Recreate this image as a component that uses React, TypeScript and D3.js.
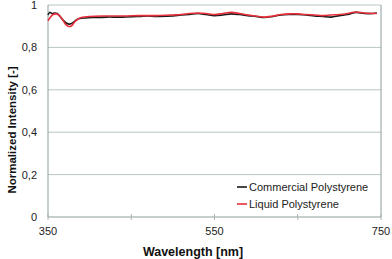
import React, { useEffect, useRef } from "react";
import * as d3 from "d3";

// wavelength [nm] sample points, one list per series
const commercialX = [350, 352, 355, 358, 361, 364, 368, 372, 376, 380, 384, 388, 395, 405, 420, 440, 460, 470, 480, 500, 510, 520, 530, 540, 550, 560, 570, 580, 590, 600, 610, 620, 630, 640, 650, 660, 670, 680, 690, 700, 710, 720, 730, 740, 745];
const commercialY = [0.953, 0.965, 0.96, 0.962, 0.96, 0.948, 0.929, 0.915, 0.91, 0.917, 0.929, 0.936, 0.939, 0.941, 0.943, 0.943, 0.946, 0.948, 0.946, 0.948, 0.953, 0.955, 0.96, 0.955, 0.95, 0.953, 0.958, 0.955, 0.95, 0.946, 0.941, 0.946, 0.953, 0.955, 0.955, 0.953, 0.948, 0.946, 0.943, 0.95, 0.955, 0.965, 0.96, 0.96, 0.962];
const liquidX = [350, 353, 356, 360, 363, 367, 371, 375, 378, 382, 386, 390, 400, 420, 440, 460, 480, 500, 510, 520, 530, 540, 550, 560, 570, 580, 590, 600, 610, 620, 630, 640, 650, 660, 670, 680, 690, 700, 710, 720, 730, 740, 745];
const liquidY = [0.925, 0.943, 0.955, 0.958, 0.953, 0.934, 0.91, 0.899, 0.901, 0.92, 0.934, 0.941, 0.946, 0.948, 0.948, 0.95, 0.95, 0.953, 0.955, 0.96, 0.962, 0.96, 0.955, 0.96, 0.965, 0.96, 0.953, 0.948, 0.943, 0.948, 0.955, 0.958, 0.958, 0.955, 0.953, 0.95, 0.953, 0.955, 0.96, 0.967, 0.962, 0.96, 0.96];

const yTicks = [0, 0.2, 0.4, 0.6, 0.8, 1];
const xLabelTicks = [350, 550, 750];
const xMinorTicks = [450, 650];
const seriesNames = ["Commercial Polystyrene", "Liquid Polystyrene"];
const seriesColors = ["#1a1a1a", "#e8303c"];

const W = 392;
const H = 259;

const App: React.FC = () => {
  const ref = useRef<SVGSVGElement | null>(null);

  useEffect(() => {
    const margin = { top: 5, right: 11, bottom: 42, left: 48 };
    const width = W - margin.left - margin.right;
    const height = H - margin.top - margin.bottom;

    const x = d3.scaleLinear().domain([350, 750]).range([0, width]);
    const y = d3.scaleLinear().domain([0, 1]).range([height, 0]);

    const svg = d3.select(ref.current);
    svg.selectAll("*").remove();

    const g = svg
      .append("g")
      .attr("transform", `translate(${margin.left},${margin.top})`);

    // gridlines
    g.selectAll("line.grid")
      .data(yTicks.filter((t) => t > 0))
      .enter()
      .append("line")
      .attr("x1", 0)
      .attr("x2", width)
      .attr("y1", (d) => y(d))
      .attr("y2", (d) => y(d))
      .attr("stroke", "#b9c6c6")
      .attr("stroke-width", 1);

    // right border
    g.append("line")
      .attr("x1", width)
      .attr("x2", width)
      .attr("y1", 0)
      .attr("y2", height)
      .attr("stroke", "#8f9d9d");

    // axes
    g.append("line")
      .attr("x1", 0)
      .attr("x2", 0)
      .attr("y1", 0)
      .attr("y2", height)
      .attr("stroke", "#8f9d9d");
    g.append("line")
      .attr("x1", 0)
      .attr("x2", width)
      .attr("y1", height)
      .attr("y2", height)
      .attr("stroke", "#8f9d9d");

    g.selectAll("line.xtick")
      .data([...xLabelTicks, ...xMinorTicks])
      .enter()
      .append("line")
      .attr("x1", (d) => x(d))
      .attr("x2", (d) => x(d))
      .attr("y1", height - 3)
      .attr("y2", height + 3)
      .attr("stroke", "#a9b5b5");

    const font = "'Liberation Sans', Arial, sans-serif";

    g.selectAll("text.ylab")
      .data(yTicks)
      .enter()
      .append("text")
      .attr("x", -11)
      .attr("y", (d) => y(d) + 4)
      .attr("text-anchor", "end")
      .attr("font-family", font)
      .attr("font-size", 11)
      .attr("fill", "#222")
      .text((d) => (d === 0 || d === 1 ? String(d) : d.toFixed(1).replace(".", ",")));

    g.selectAll("text.xlab")
      .data(xLabelTicks)
      .enter()
      .append("text")
      .attr("x", (d) => x(d))
      .attr("y", height + 18)
      .attr("text-anchor", "middle")
      .attr("font-family", font)
      .attr("font-size", 11)
      .attr("fill", "#222")
      .text((d) => String(d));

    // titles
    svg
      .append("text")
      .attr("x", 193)
      .attr("y", 256)
      .attr("text-anchor", "middle")
      .attr("font-family", font)
      .attr("font-size", 12.5)
      .attr("font-weight", "bold")
      .attr("fill", "#111")
      .text("Wavelength [nm]");
    svg
      .append("text")
      .attr("transform", `translate(16,130) rotate(-90)`)
      .attr("text-anchor", "middle")
      .attr("font-family", font)
      .attr("font-size", 11.5)
      .attr("font-weight", "bold")
      .attr("fill", "#111")
      .text("Normalized Intensity [-]");

    // series
    const line = d3
      .line<[number, number]>()
      .x((d) => x(d[0]))
      .y((d) => y(d[1]))
      .curve(d3.curveCatmullRom);

    const series: [number, number][][] = [
      commercialX.map((v, i) => [v, commercialY[i]]),
      liquidX.map((v, i) => [v, liquidY[i]]),
    ];
    series.forEach((s, i) => {
      g.append("path")
        .datum(s)
        .attr("fill", "none")
        .attr("stroke", seriesColors[i])
        .attr("stroke-width", 1.6)
        .attr("d", line);
    });

    // legend
    const lg = g.append("g").attr("transform", `translate(${189},${182})`);
    seriesNames.forEach((name, i) => {
      lg.append("line")
        .attr("x1", 0)
        .attr("x2", 10)
        .attr("y1", i * 17)
        .attr("y2", i * 17)
        .attr("stroke", seriesColors[i])
        .attr("stroke-width", 1.6);
      lg.append("text")
        .attr("x", 12)
        .attr("y", i * 17 + 4)
        .attr("font-family", font)
        .attr("font-size", 11)
        .attr("fill", "#222")
        .text(name);
    });
  }, []);

  return (
    <svg
      ref={ref}
      width={W}
      height={H}
      viewBox={`0 0 ${W} ${H}`}
      style={{ position: "absolute", left: 0, top: 0, background: "#fff" }}
    />
  );
};

export default App;
